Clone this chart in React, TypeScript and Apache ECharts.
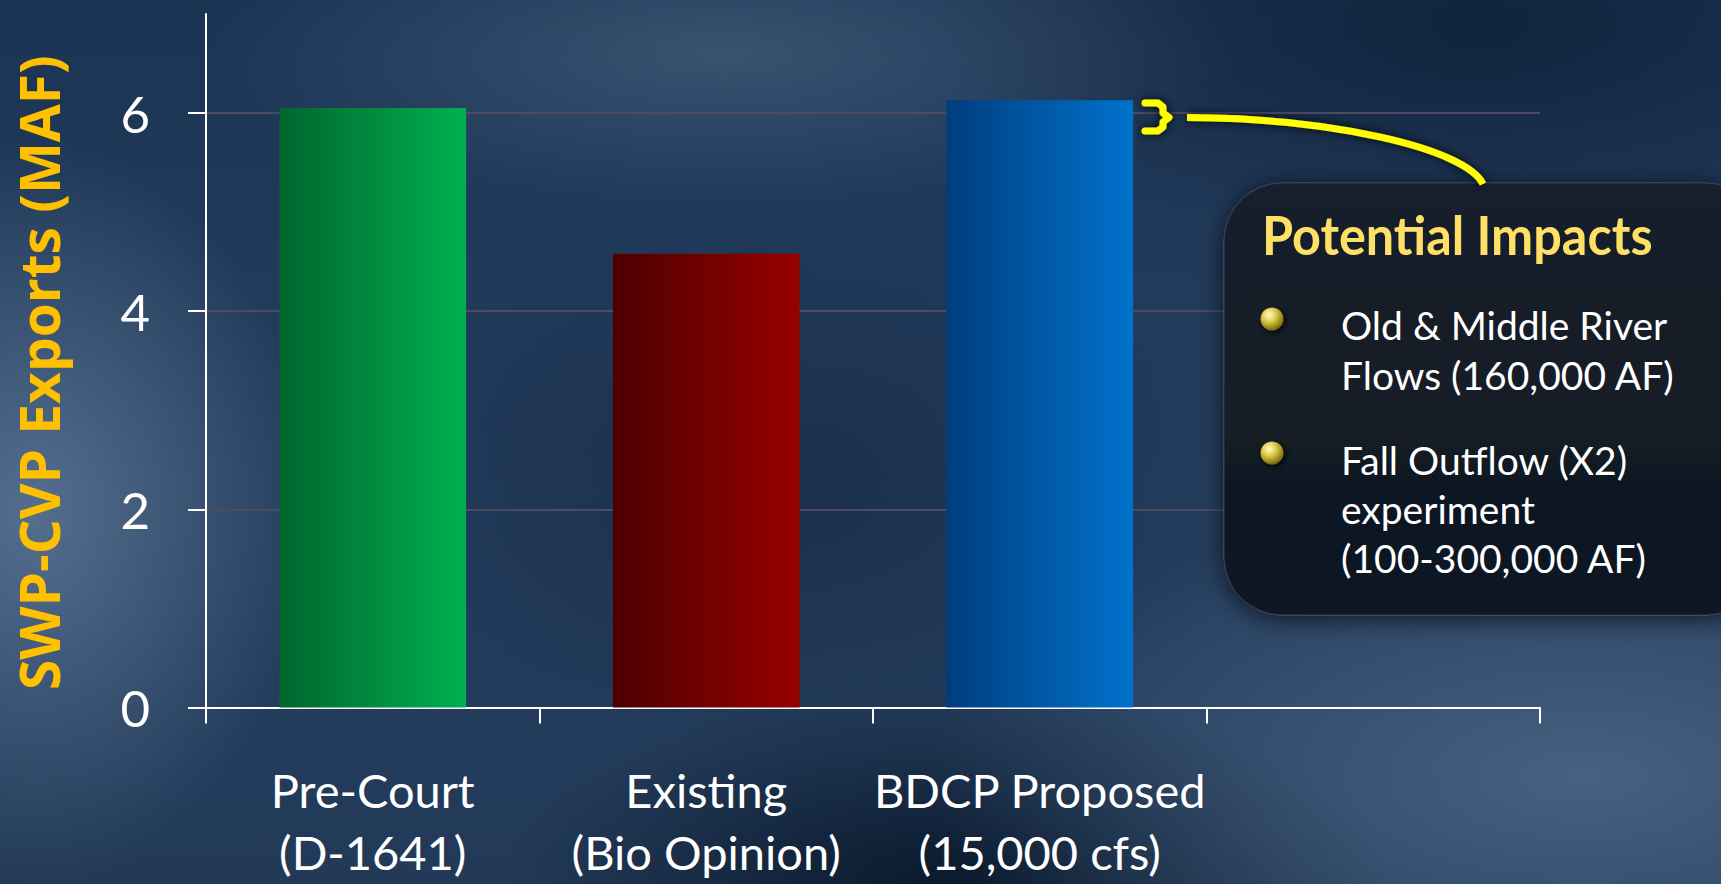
import React, { useEffect, useRef } from "react";
import * as echarts from "echarts";

// ---- data ----
const categories = ["Pre-Court\n(D-1641)", "Existing\n(Bio Opinion)", "BDCP Proposed\n(15,000 cfs)", ""];
const exportsMAF = [6.05, 4.58, 6.13];
const yTickValues = [0, 2, 4, 6];
const yAxisTitle = "SWP-CVP Exports (MAF)";
const calloutTitle = "Potential Impacts";
const bulletOne = ["Old & Middle River", "Flows (160,000 AF)"];
const bulletTwo = ["Fall Outflow (X2)", "experiment", "(100-300,000 AF)"];

// ---- styles ----
const barGradients = [
  ["#00662e", "#00b050"],
  ["#4d0000", "#980000"],
  ["#003d7e", "#0072cc"],
];

const hGrad = (a: string, b: string) => ({
  type: "linear",
  x: 0,
  y: 0,
  x2: 1,
  y2: 0,
  colorStops: [
    { offset: 0, color: a },
    { offset: 1, color: b },
  ],
});

const bulletFill = {
  type: "radial",
  x: 0.38,
  y: 0.32,
  r: 0.75,
  colorStops: [
    { offset: 0, color: "#fffbd8" },
    { offset: 0.35, color: "#e6d456" },
    { offset: 0.75, color: "#9a8a1c" },
    { offset: 1, color: "#5e520c" },
  ],
};

export default function App() {
  const ref = useRef<HTMLDivElement>(null);

  useEffect(() => {
    if (!ref.current) return;
    const chart = echarts.init(ref.current, undefined, { renderer: "svg" });

    const barData = exportsMAF.map((v, i) => ({
      value: v,
      itemStyle: { color: hGrad(barGradients[i][0], barGradients[i][1]) },
    }));

    const textShadow = { shadowColor: "rgba(0,0,0,0.85)", shadowBlur: 4, shadowOffsetX: 2, shadowOffsetY: 2 };

    const option: any = {
      animation: false,
      backgroundColor: "transparent",
      grid: { left: 206, right: 181, top: 14, bottom: 176.5, containLabel: false },
      xAxis: {
        type: "category",
        data: categories,
        boundaryGap: true,
        axisLine: { show: true, lineStyle: { color: "#ffffff", width: 2 } },
        axisTick: { show: true, length: 16, lineStyle: { color: "#ffffff", width: 2 } },
        axisLabel: {
          interval: 0,
          color: "#ffffff",
          fontFamily: "Lato",
          fontSize: 47,
          lineHeight: 62,
          margin: 51,
        },
        splitLine: { show: false },
      },
      yAxis: {
        type: "value",
        min: 0,
        max: 7,
        interval: 2,
        name: yAxisTitle,
        nameLocation: "middle",
        nameGap: 140,
        nameTextStyle: {
          color: "#FFC000",
          fontFamily: "Open Sans",
          fontWeight: "bold",
          fontSize: 55,
          lineHeight: 56,
          padding: [0, 24, 0, 0],
        },
        axisLine: { show: true, lineStyle: { color: "#ffffff", width: 2 } },
        axisTick: {
          show: true,
          length: 18,
          customValues: yTickValues,
          lineStyle: { color: "#ffffff", width: 2 },
        },
        axisLabel: {
          customValues: yTickValues,
          color: "#ffffff",
          fontFamily: "Lato",
          fontSize: 51,
          margin: 56,
        },
        splitLine: { show: true, lineStyle: { color: "#4d4a62", width: 2 } },
      },
      series: [
        {
          type: "bar",
          data: barData,
          barWidth: "56%",
          z: 3,
        },
      ],
      graphic: [
        // callout box
        {
          type: "rect",
          z: 100,
          shape: { x: 1224, y: 183, width: 540, height: 432, r: 58 },
          style: {
            fill: {
              type: "linear",
              x: 0,
              y: 0,
              x2: 0,
              y2: 1,
              colorStops: [
                { offset: 0, color: "#18202c" },
                { offset: 1, color: "#0f1620" },
              ],
            },
            stroke: "rgba(120,130,150,0.35)",
            lineWidth: 1,
            shadowColor: "rgba(0,0,0,0.7)",
            shadowBlur: 24,
            shadowOffsetY: 4,
            opacity: 0.96,
          },
        },
        // title
        {
          type: "text",
          z: 101,
          x: 1262,
          y: 204,
          scaleX: 0.95,
          style: {
            text: calloutTitle,
            fontFamily: "Lato",
            fontWeight: "bold",
            fontSize: 53,
            lineHeight: 60,
            align: "left",
            verticalAlign: "top",
            fill: "#ffe066",
            ...textShadow,
          },
        },
        // bullets
        {
          type: "circle",
          z: 101,
          shape: { cx: 1272, cy: 319, r: 11.5 },
          style: { fill: bulletFill, shadowColor: "rgba(0,0,0,0.8)", shadowBlur: 6, shadowOffsetX: 2, shadowOffsetY: 2 },
        },
        {
          type: "circle",
          z: 101,
          shape: { cx: 1272, cy: 453, r: 11.5 },
          style: { fill: bulletFill, shadowColor: "rgba(0,0,0,0.8)", shadowBlur: 6, shadowOffsetX: 2, shadowOffsetY: 2 },
        },
        {
          type: "text",
          z: 101,
          x: 1341,
          y: 300,
          style: {
            text: bulletOne.join("\n"),
            fontFamily: "Lato",
            fontSize: 39,
            lineHeight: 50,
            align: "left",
            verticalAlign: "top",
            fill: "#ffffff",
            ...textShadow,
          },
        },
        {
          type: "text",
          z: 101,
          x: 1341,
          y: 435,
          style: {
            text: bulletTwo.join("\n"),
            fontFamily: "Lato",
            fontSize: 39,
            lineHeight: 49,
            align: "left",
            verticalAlign: "top",
            fill: "#ffffff",
            ...textShadow,
          },
        },
        // connector bracket
        {
          type: "polyline",
          z: 102,
          shape: {
            points: [
              [1145, 103],
              [1158, 103],
              [1163, 107],
              [1163, 113],
              [1169, 117.5],
              [1163, 122],
              [1163, 127],
              [1158, 131],
              [1145, 131],
            ],
          },
          style: {
            stroke: "#ffff00",
            lineWidth: 7,
            fill: "none",
            lineJoin: "round",
            lineCap: "round",
            shadowColor: "rgba(0,0,0,0.9)",
            shadowBlur: 10,
          },
        },
        {
          type: "line",
          z: 102,
          shape: { x1: 1166, y1: 117.5, x2: 1190, y2: 117.5 },
          style: { stroke: "#ffff00", lineWidth: 7, lineCap: "round", shadowColor: "rgba(0,0,0,0.9)", shadowBlur: 10 },
        },
        {
          type: "bezierCurve",
          z: 102,
          shape: { x1: 1187, y1: 117.5, cpx1: 1330, cpy1: 118, cpx2: 1465, cpy2: 148, x2: 1483, y2: 184 },
          style: {
            stroke: "#ffff00",
            lineWidth: 7,
            fill: "none",
            lineCap: "butt",
            shadowColor: "rgba(0,0,0,0.9)",
            shadowBlur: 10,
          },
        },
      ],
    };

    chart.setOption(option);
    return () => chart.dispose();
  }, []);

  const bg = [
    "radial-gradient(ellipse 16% 42% at 2% 58%, rgba(96,122,152,0.8), rgba(96,122,152,0))",
    "radial-gradient(ellipse 30% 18% at 42% 6%, rgba(72,98,128,0.65), rgba(72,98,128,0))",
    "radial-gradient(ellipse 38% 32% at 92% 88%, rgba(82,110,142,0.75), rgba(82,110,142,0))",
    "radial-gradient(ellipse 26% 22% at 55% 100%, rgba(8,22,40,0.9), rgba(8,22,40,0))",
    "radial-gradient(ellipse 32% 26% at 86% 3%, rgba(12,30,55,0.75), rgba(12,30,55,0))",
    "radial-gradient(ellipse 30% 30% at 45% 55%, rgba(16,36,62,0.6), rgba(16,36,62,0))",
    "linear-gradient(180deg, #1c3453 0%, #263f60 55%, #223a58 100%)",
  ].join(",");

  return (
    <div
      ref={ref}
      style={{ position: "fixed", left: 0, top: 0, width: 1721, height: 884, background: bg }}
    />
  );
}
